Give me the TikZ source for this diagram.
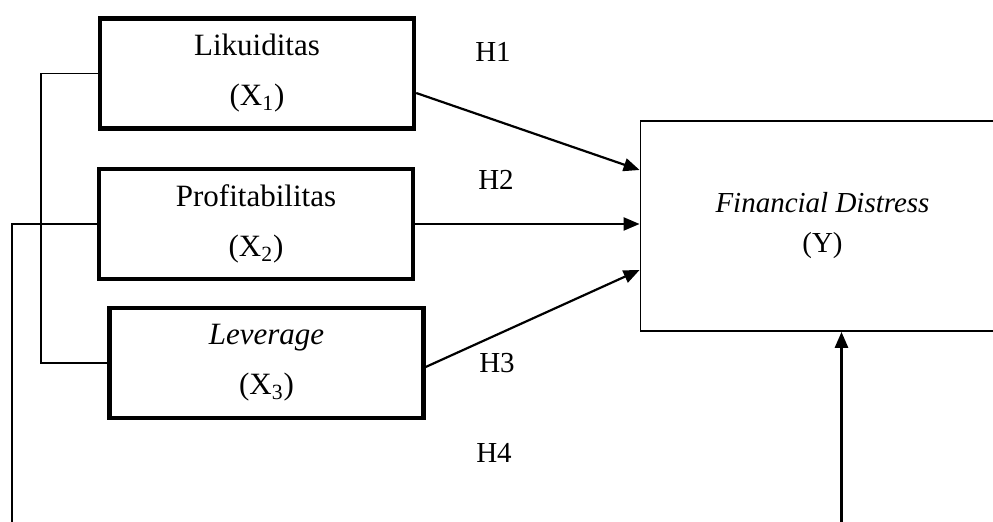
\documentclass[tikz,border=0pt]{standalone}
\usepackage{fontspec}
\setmainfont{Liberation Serif}
\usetikzlibrary{arrows.meta, positioning, calc}

\begin{document}
\begin{tikzpicture}[
      x=0.5pt, y=-0.5pt,
      varbox/.style={rectangle, draw, line width=2.2pt, minimum width=157pt,
                     minimum height=55pt, align=center, inner sep=0pt,
                     font=\fontsize{15.5}{25}\selectfont},
      ybox/.style={rectangle, draw, line width=0.9pt, minimum width=182pt,
                   minimum height=105pt, align=center, inner sep=0pt,
                   font=\fontsize{14.5}{20}\selectfont},
      hlabel/.style={font=\fontsize{14.5}{17}\selectfont},
      arr/.style={-{Triangle[length=8pt, width=6.5pt]}, line width=1.1pt},
      link/.style={line width=0.85pt},
      mainlink/.style={line width=1.4pt}
    ]
      \clip (0,0) rectangle (993,522);
      \node[varbox] (x1) at (257,73.5) {Likuiditas\\(X\textsubscript{1})};
      \node[varbox] (x2) at (256,224) {Profitabilitas\\(X\textsubscript{2})};
      \node[varbox] (x3) at (266.5,363) {\textit{Leverage}\\(X\textsubscript{3})};
      \node[ybox] (y) at (822.5,226) {\textit{Financial Distress}\\(Y)};
      \node[hlabel] (h1) at (493,52) {H1};
      \node[hlabel] (h2) at (496,180) {H2};
      \node[hlabel] (h3) at (497,363) {H3};
      \node[hlabel] (h4) at (494,453) {H4};
      \coordinate (h4corner) at (12,560);
      \draw[arr] ([yshift=-9.75pt]x1.east) -- ([yshift=28pt]y.west);
      \draw[arr] (x2.east) -- (x2.east -| y.west);
      \draw[arr] ([yshift=-2pt]x3.east) -- ([yshift=-22pt]y.west);
      \draw[link] (x1.west) -- ++(-57,0) |- (x3.west);
      \draw[mainlink, -{Triangle[length=8pt, width=6.5pt]}] (x2.west) -| (h4corner)
        -| ([xshift=9.5pt]y.south);
    \end{tikzpicture}
\end{document}
